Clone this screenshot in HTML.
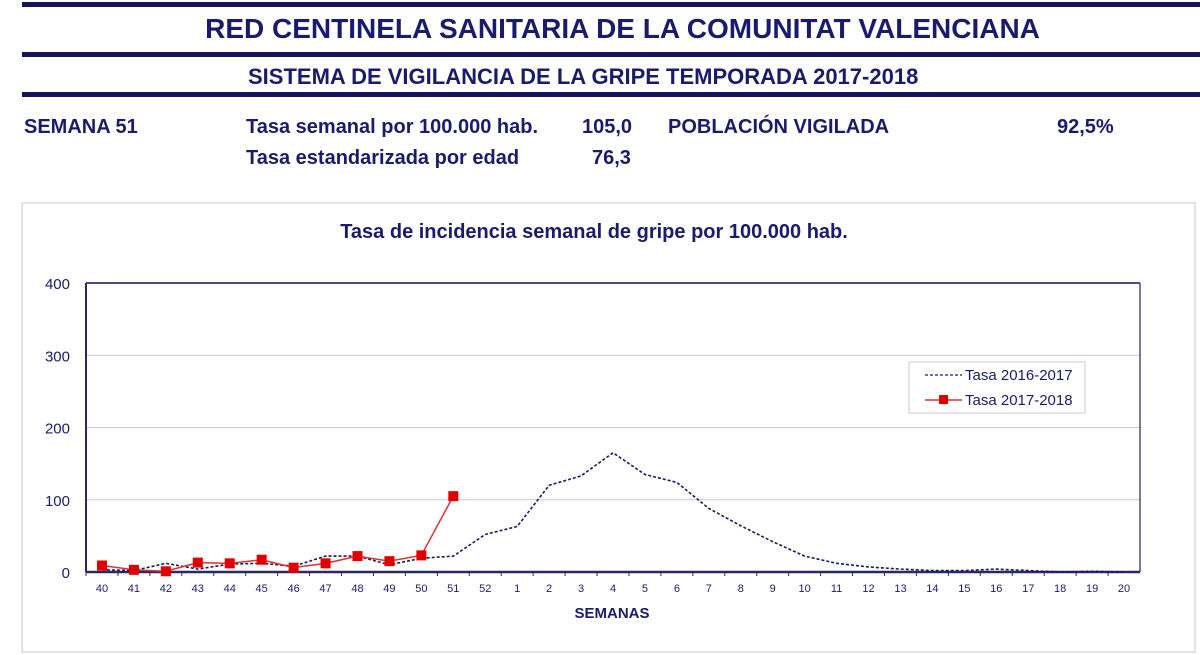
<!DOCTYPE html>
<html><head><meta charset="utf-8"><style>
body{margin:0;width:1200px;height:655px;background:#fff;font-family:"Liberation Sans",sans-serif;color:#1a1a6e;position:relative;overflow:hidden}
.bar{position:absolute;left:22px;right:0;height:5px;background:#14145e}
.t{position:absolute;font-weight:bold;white-space:nowrap}
</style></head><body>
<div class="bar" style="top:2px"></div>
<div class="t" style="left:0;width:1245px;text-align:center;top:13px;font-size:28px">RED CENTINELA SANITARIA DE LA COMUNITAT VALENCIANA</div>
<div class="bar" style="top:52px"></div>
<div class="t" style="left:248px;top:64px;font-size:22px">SISTEMA DE VIGILANCIA DE LA GRIPE TEMPORADA 2017-2018</div>
<div class="bar" style="top:92px"></div>
<div class="t" style="left:24px;top:116px;font-size:20px">SEMANA 51</div>
<div class="t" style="left:246px;top:116px;font-size:20px">Tasa semanal por 100.000 hab.</div>
<div class="t" style="left:582px;top:116px;font-size:20px">105,0</div>
<div class="t" style="left:668px;top:116px;font-size:20px">POBLACIÓN VIGILADA</div>
<div class="t" style="left:1057px;top:116px;font-size:20px">92,5%</div>
<div class="t" style="left:246px;top:147px;font-size:20px">Tasa estandarizada por edad</div>
<div class="t" style="left:592px;top:147px;font-size:20px">76,3</div>
<svg id="chart" width="1200" height="655" style="position:absolute;left:0;top:0"></svg>
<script>
const categories=["40","41","42","43","44","45","46","47","48","49","50","51","52","1","2","3","4","5","6","7","8","9","10","11","12","13","14","15","16","17","18","19","20"];
const series2016=[3,2,12,4,11,12,8,22,22,10,19,22,52,63,120,133,165,135,124,88,64,42,22,12,7,4,2,2,4,2,0,1,0];
const series2017=[9,3,1,13,12,17,6,12,22,15,23,105];
const yTicks=[0,100,200,300,400];
const NS="http://www.w3.org/2000/svg";
const svg=document.getElementById('chart');
const L=86,R=1140,T=283,B=572,YMAX=400;
const bw=(R-L)/categories.length;
const x=i=>L+bw*(i+0.5);
const y=v=>B-(v/YMAX)*(B-T);
function mk(tag,a){const e=document.createElementNS(NS,tag);for(const k in a)e.setAttribute(k,a[k]);svg.appendChild(e);return e;}
let e;
e=mk('rect',{x:22,y:203,width:1173,height:449,fill:'none',stroke:'#d8d8e0','stroke-width':1.5});


e=mk('text',{x:594,y:238,'text-anchor':'middle','font-size':20,'font-weight':'bold',fill:'#1a1a6e'});e.textContent='Tasa de incidencia semanal de gripe por 100.000 hab.';


yTicks.forEach(t=>{
 if(t>0){e=mk('line',{x1:L,x2:R,y1:y(t),y2:y(t),stroke:t==YMAX?'#4a4a80':'#c8c8e0','stroke-width':t==YMAX?2:1});
 
 }
 e=mk('text',{x:70,y:y(t)+6,'text-anchor':'end','font-size':15,fill:'#1a1a6e'});e.textContent=t;
 
 
});
e=mk('line',{x1:R,x2:R,y1:T,y2:B,stroke:'#4a4a80','stroke-width':1.5});


e=mk('line',{x1:L,x2:L,y1:T,y2:B,stroke:'#2a2a60','stroke-width':2});


e=mk('line',{x1:L,x2:R,y1:B,y2:B,stroke:'#2a2a60','stroke-width':2.5});


categories.forEach((c,i)=>{
 e=mk('line',{x1:L+bw*i,x2:L+bw*i,y1:B,y2:B+4,stroke:'#2a2a60'});
 
 
 e=mk('text',{x:x(i),y:B+20,'text-anchor':'middle','font-size':11,fill:'#1a1a6e'});e.textContent=c;
 
 
});
e=mk('text',{x:612,y:618,'text-anchor':'middle','font-size':15,'font-weight':'bold',fill:'#1a1a6e'});e.textContent='SEMANAS';


e=mk('polyline',{points:series2016.map((v,i)=>x(i)+','+y(v)).join(' '),fill:'none',stroke:'#1a1a5e','stroke-width':1.6,'stroke-dasharray':'3,2'});


e=mk('polyline',{points:series2017.map((v,i)=>x(i)+','+y(v)).join(' '),fill:'none',stroke:'#e03030','stroke-width':1.5});


series2017.forEach((v,i)=>{
 e=mk('rect',{x:x(i)-5,y:y(v)-5,width:10,height:10,fill:'#e00000'});
 
 
});
e=mk('rect',{x:909,y:362,width:176,height:51,fill:'#fff',stroke:'#c8c8d8'});


e=mk('line',{x1:925,x2:962,y1:375,y2:375,stroke:'#1a1a5e','stroke-width':1.2,'stroke-dasharray':'3,2'});


e=mk('text',{x:965,y:380,'font-size':15,fill:'#1a1a6e'});e.textContent='Tasa 2016-2017';


e=mk('line',{x1:925,x2:962,y1:400,y2:400,stroke:'#e03030','stroke-width':1.5});


e=mk('rect',{x:939,y:395,width:9,height:9,fill:'#e00000'});


e=mk('text',{x:965,y:405,'font-size':15,fill:'#1a1a6e'});e.textContent='Tasa 2017-2018';


</script>
</body></html>
